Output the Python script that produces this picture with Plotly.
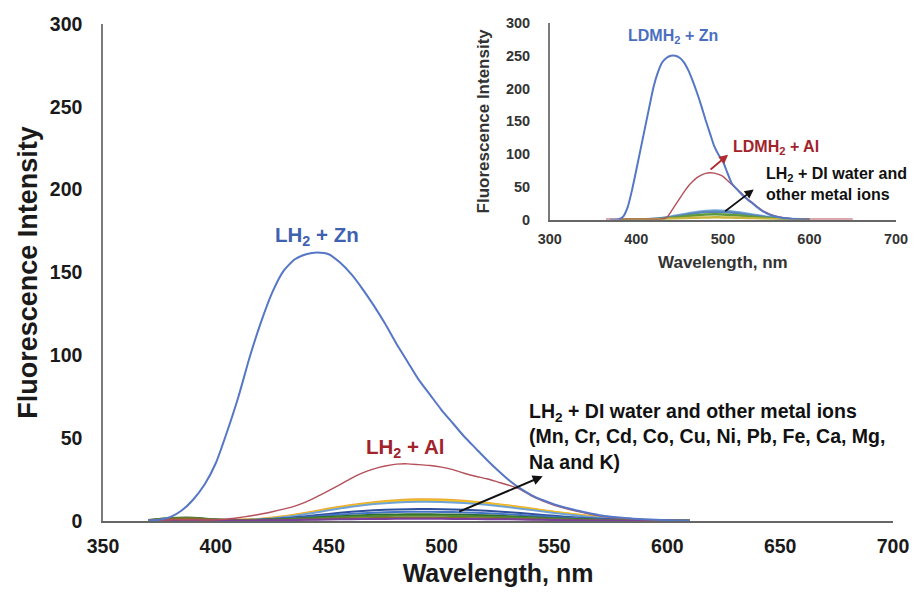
import plotly.graph_objects as go

# ---------------- main panel data ----------------
wl_main = [370, 375, 380, 385, 390, 395, 400, 405, 410, 415, 420, 425, 430, 435, 440, 445,
           450, 455, 460, 465, 470, 475, 480, 485, 490, 495, 500, 505, 510, 515, 520, 525,
           530, 535, 540, 545, 550, 555, 560, 565, 570, 575, 580, 585, 590, 595, 600, 605, 610]
lh2_zn = [0.5, 0.8, 2.5, 6.5, 13, 22, 35, 54, 75, 99, 120, 138, 151, 158, 161, 162,
          161, 156, 149, 140, 130, 119, 107, 96, 85, 76, 67, 59, 51, 44, 37, 30.5,
          24.5, 19.5, 15.5, 12.5, 10, 8, 6.3, 4.8, 3.5, 2.6, 1.9, 1.4, 1.0, 0.7, 0.5, 0.3, 0.2]
lh2_al = [0.3, 0.5, 0.8, 0.8, 0.7, 0.6, 0.8, 1.2, 2, 3, 4.2, 5.6, 7.2, 9, 11.5, 14.8,
          18.3, 22, 25.8, 29, 31.5, 33.2, 34.3, 34.5, 34, 33.5, 32.5, 31, 28.8, 27, 25.5, 23.5,
          21.5, 19, 15, 12, 9.5, 7.5, 5.8, 4.4, 3.2, 2.3, 1.6, 1.1, 0.8, 0.5, 0.4, 0.3, 0.2]

wl_ions = [370, 380, 390, 400, 410, 420, 430, 440, 450, 460, 470, 480, 490,
           500, 510, 520, 530, 540, 550, 560, 570, 580, 590, 600, 610]
ion_a = [0.5, 1.2, 1.2, 0.6, 0.8, 1.4, 2.8, 5.0, 7.5, 9.6, 11.3, 12.5, 13.1, 13.0, 12.3, 11.0, 9.3, 7.5, 5.6, 3.9, 2.4, 1.3, 0.6, 0.3, 0.1]
ion_b = [0.4, 1.0, 1.0, 0.5, 0.7, 1.2, 2.5, 4.6, 7.0, 9.2, 10.9, 12.0, 12.5, 12.4, 11.8, 10.6, 9.0, 7.3, 5.5, 3.8, 2.3, 1.2, 0.6, 0.3, 0.1]
ion_c = [0.3, 0.8, 0.9, 0.5, 0.6, 1.0, 2.2, 4.2, 6.5, 8.6, 10.2, 11.2, 11.6, 11.5, 10.9, 9.8, 8.3, 6.6, 4.9, 3.3, 2.0, 1.1, 0.5, 0.2, 0.1]
ion_d = [0.2, 0.6, 0.7, 0.4, 0.5, 0.8, 1.6, 2.9, 4.3, 5.6, 6.5, 7.0, 7.2, 7.1, 6.8, 6.2, 5.3, 4.2, 3.1, 2.1, 1.3, 0.7, 0.3, 0.2, 0.1]
ion_e = [0.2, 0.5, 0.6, 0.3, 0.4, 0.7, 1.3, 2.3, 3.4, 4.3, 5.0, 5.4, 5.6, 5.5, 5.2, 4.7, 4.0, 3.2, 2.4, 1.6, 1.0, 0.5, 0.3, 0.1, 0.1]
ion_f = [0.6, 1.8, 2.0, 1.0, 0.6, 0.7, 1.1, 1.8, 2.6, 3.2, 3.7, 4.0, 4.1, 4.0, 3.8, 3.4, 2.9, 2.3, 1.7, 1.2, 0.8, 0.5, 0.3, 0.2, 0.1]
ion_g = [0.5, 1.5, 1.7, 0.8, 0.5, 0.6, 0.9, 1.4, 2.0, 2.5, 2.9, 3.1, 3.2, 3.1, 2.9, 2.6, 2.2, 1.8, 1.3, 0.9, 0.6, 0.4, 0.2, 0.1, 0.1]
ion_h = [0.5, 1.4, 1.5, 0.7, 0.4, 0.4, 0.6, 0.9, 1.3, 1.6, 1.8, 2.0, 2.0, 1.9, 1.8, 1.6, 1.4, 1.1, 0.8, 0.6, 0.4, 0.3, 0.2, 0.1, 0.1]
ion_i = [0.2, 0.4, 0.4, 0.3, 0.3, 0.4, 0.5, 0.7, 0.9, 1.1, 1.2, 1.3, 1.3, 1.3, 1.2, 1.1, 1.0, 0.8, 0.6, 0.4, 0.3, 0.2, 0.1, 0.1, 0.0]
ion_series = [ion_a, ion_b, ion_c, ion_d, ion_e, ion_f, ion_g, ion_h, ion_i]
ion_colors = ["#eda33a", "#f2c21a", "#6fa3d8", "#2f4f9c", "#4472c4", "#2f6b2f", "#4f8a33", "#8a6a2a", "#7a3e9c"]

# ---------------- inset data ----------------
wl_inset_zn = [370, 380, 385, 390, 395, 400, 405, 410, 415, 420, 425, 430, 435, 440, 445, 450,
               455, 460, 465, 470, 475, 480, 485, 490, 495, 500, 505, 510, 515, 520, 525, 530,
               535, 540, 545, 550, 555, 560, 565, 570, 580, 590, 600]
ldmh2_zn = [0, 0.5, 5, 19, 45, 76, 108, 140, 172, 203, 225, 240, 247, 250, 250, 247,
            240, 228, 212, 194, 174, 152, 132, 112, 99, 89, 72, 56, 48, 41, 34.5, 29,
            24, 18.5, 13.5, 10, 7, 5, 3.5, 2.4, 1, 0.4, 0.2]
wl_inset_al = [365, 400, 430, 435, 440, 445, 450, 455, 460, 465, 470, 475, 480, 485, 490, 495,
               500, 505, 510, 515, 520, 525, 530, 535, 540, 545, 550, 555, 560, 565, 570, 575,
               580, 590, 600, 620, 650]
ldmh2_al = [0.5, 0.8, 1, 3, 12, 22, 32, 42, 51, 58, 64, 68, 70.5, 71.5, 71, 69,
            66, 60, 54, 48, 42, 35.5, 30, 25, 19.5, 14.5, 11, 8, 5.8, 4.2, 3, 2.1,
            1.5, 0.8, 0.6, 0.5, 0.5]
wl_inset_ions = [380, 390, 400, 410, 420, 430, 440, 450, 460, 470, 480, 490,
                 500, 510, 520, 530, 540, 550, 560, 570, 580, 590, 600]
inset_a = [0.3, 0.3, 0.4, 0.6, 1.2, 2.5, 4.5, 7, 9.5, 11.8, 13.3, 14, 13.6, 12.5, 10.8, 8.7, 6.5, 4.5, 2.8, 1.6, 0.8, 0.4, 0.2]
inset_b = [0.3, 0.3, 0.4, 0.5, 1.0, 2.1, 3.9, 6.1, 8.3, 10.2, 11.5, 12, 11.7, 10.7, 9.3, 7.4, 5.5, 3.8, 2.4, 1.3, 0.7, 0.3, 0.2]
inset_c = [0.2, 0.2, 0.3, 0.4, 0.7, 1.4, 2.6, 4.0, 5.5, 6.8, 7.7, 8.0, 7.8, 7.1, 6.1, 4.9, 3.7, 2.5, 1.6, 0.9, 0.5, 0.2, 0.1]
inset_d = [0.1, 0.1, 0.2, 0.2, 0.4, 0.7, 1.2, 1.8, 2.4, 3.0, 3.3, 3.5, 3.4, 3.1, 2.7, 2.2, 1.6, 1.1, 0.7, 0.4, 0.2, 0.1, 0.1]
inset_series = [inset_a, inset_b, inset_c, inset_d]
inset_colors = ["#7fb0d8", "#5a86c0", "#5f9a3a", "#c8b43a"]

FONT = "Arial, Liberation Sans, sans-serif"
BLUE = "#5577c6"
RED = "#b4505a"

fig = go.Figure()

def line(col, w):
    return dict(color=col, width=w, shape="spline", smoothing=0.6)

# main panel
for vals, col in zip(ion_series, ion_colors):
    fig.add_trace(go.Scatter(x=wl_ions, y=vals, mode="lines", line=line(col, 2),
                             xaxis="x", yaxis="y", hoverinfo="skip"))
fig.add_trace(go.Scatter(x=wl_main, y=lh2_al, mode="lines", line=line(RED, 1.4),
                         xaxis="x", yaxis="y"))
fig.add_trace(go.Scatter(x=wl_main, y=lh2_zn, mode="lines", line=line(BLUE, 2),
                         xaxis="x", yaxis="y"))

# inset
for vals, col in zip(inset_series, inset_colors):
    fig.add_trace(go.Scatter(x=wl_inset_ions, y=vals, mode="lines", line=line(col, 2.5),
                             xaxis="x2", yaxis="y2"))
fig.add_trace(go.Scatter(x=wl_inset_al, y=ldmh2_al, mode="lines", line=line(RED, 1.4),
                         xaxis="x2", yaxis="y2"))
fig.add_trace(go.Scatter(x=wl_inset_zn, y=ldmh2_zn, mode="lines", line=line(BLUE, 2),
                         xaxis="x2", yaxis="y2"))

axis_common = dict(showgrid=False, zeroline=False, showline=True, ticks="", fixedrange=True)

fig.update_layout(
    width=924, height=598,
    margin=dict(l=103, r=24, t=22, b=77),
    paper_bgcolor="white", plot_bgcolor="white",
    showlegend=False,
    font=dict(family=FONT, color="#1a1a1a"),
    xaxis=dict(axis_common, domain=[0, 0.99624], range=[350, 700], dtick=50, tick0=350,
               linecolor="#666666", linewidth=1.5,
               tickfont=dict(size=19.5, family=FONT, color="#1a1a1a", weight="bold"),
               ticklabelstandoff=7,
               title=dict(text="<b>Wavelength, nm</b>", font=dict(size=25, family=FONT, color="#1a1a1a"),
                          standoff=8)),
    yaxis=dict(axis_common, domain=[0, 0.998], range=[0, 300], dtick=50,
               linecolor="#7a7a7a", linewidth=1.5,
               tickfont=dict(size=19.5, family=FONT, color="#1a1a1a", weight="bold"),
               ticklabelstandoff=15,
               title=dict(text="<b>Fluorescence Intensity</b>", font=dict(size=27, family=FONT, color="#1a1a1a"),
                          standoff=4)),
    xaxis2=dict(axis_common, domain=[0.5634, 1.0], range=[300, 700], dtick=100, tick0=300,
                anchor="y2", linecolor="#666666", linewidth=1.5,
                tickfont=dict(size=14.5, family=FONT, color="#333333", weight="bold"),
                ticklabelstandoff=5,
                title=dict(text="<b>Wavelength, nm</b>", font=dict(size=17, family=FONT, color="#333333"),
                           standoff=10)),
    yaxis2=dict(axis_common, domain=[0.6052, 1.0], range=[0, 300], dtick=50,
                anchor="x2", linecolor="#7a7a7a", linewidth=1.5,
                tickfont=dict(size=14.5, family=FONT, color="#333333", weight="bold"),
                ticklabelstandoff=15,
                title=dict(text="<b>Fluorescence Intensity</b>", font=dict(size=17, family=FONT, color="#333333"),
                           standoff=12)),
)

annotations = [
    # main panel labels
    dict(x=445, y=172, xref="x", yref="y", text="<b>LH<sub>2</sub> + Zn</b>", showarrow=False,
         font=dict(size=20.5, family=FONT, color="#3f62b0")),
    dict(x=484, y=44, xref="x", yref="y", text="<b>LH<sub>2</sub> + Al</b>", showarrow=False,
         font=dict(size=20.5, family=FONT, color="#a2232c")),
    dict(x=538, y=51, xref="x", yref="y", xanchor="left", yanchor="middle", align="left",
         text="<b>LH<sub>2</sub> + DI water and other metal ions<br>(Mn, Cr, Cd, Co, Cu, Ni, Pb, Fe, Ca, Mg,<br>Na and K)</b>",
         showarrow=False, font=dict(size=19.5, family=FONT, color="#111111")),
    dict(x=544.8, y=27, xref="x", yref="y", ax=-85, ay=36, text="", showarrow=True,
         arrowhead=2, arrowsize=1, arrowwidth=2, arrowcolor="#111111"),
    # inset labels
    dict(x=442.5, y=280, xref="x2", yref="y2", text="<b>LDMH<sub>2</sub> + Zn</b>", showarrow=False,
         font=dict(size=16, family=FONT, color="#4a6fc0")),
    dict(x=561, y=110, xref="x2", yref="y2", text="<b>LDMH<sub>2</sub> + Al</b>", showarrow=False,
         font=dict(size=16, family=FONT, color="#a2232c")),
    dict(x=547, y=55, xref="x2", yref="y2", xanchor="left", yanchor="middle", align="left",
         text="<b>LH<sub>2</sub> + DI water and<br>other metal ions</b>", showarrow=False,
         font=dict(size=16, family=FONT, color="#111111")),
    dict(x=506, y=99, xref="x2", yref="y2", ax=-19, ay=16, text="", showarrow=True,
         arrowhead=2, arrowsize=1, arrowwidth=1.8, arrowcolor="#b02a30"),
    dict(x=535.6, y=46, xref="x2", yref="y2", ax=-30, ay=23, text="", showarrow=True,
         arrowhead=2, arrowsize=1, arrowwidth=1.8, arrowcolor="#111111"),
]
fig.update_layout(annotations=annotations)

fig.write_html("out.html")
